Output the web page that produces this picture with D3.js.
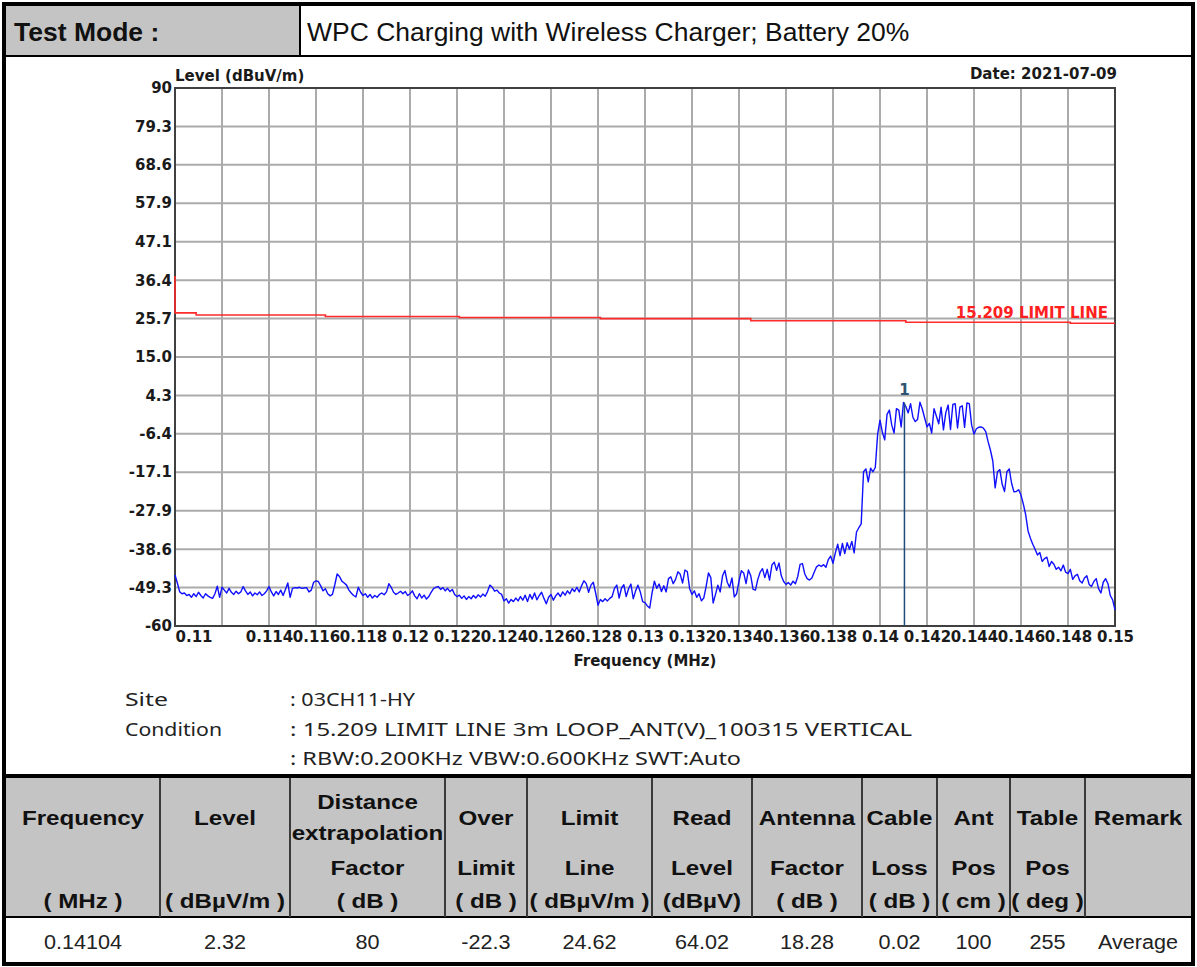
<!DOCTYPE html>
<html lang="en">
<head>
<meta charset="UTF-8">
<title>WPC Charging with Wireless Charger</title>
<script src="https://d3js.org/d3.v7.min.js"></script>
<style>
  body { margin: 0; background: #fff; }
  svg { display: block; }
  .sheet { font-family: "Liberation Sans", Arial, sans-serif; fill: #111; }
  .chart-text { font-family: "DejaVu Sans", sans-serif; font-weight: bold; font-size: 15px; fill: #1a1a1a; }
  .info { font-family: "Noto Sans", sans-serif; font-size: 18px; fill: #222; }
</style>
</head>
<body>
<svg width="1197" height="967"></svg>
<script>
// ---- data ----
const testMode = "WPC Charging with Wireless Charger; Battery 20%";
const chartDate = "Date: 2021-07-09";

// sweep 0.11 .. 0.15 MHz, 0.0001 MHz per point
const freqStart = 0.11;
const freqStep = 0.0001;
const levels = [
  -45.8,-48,-50.5,-51,-50.8,-51.5,-51.2,-52,-51,-51.8,
  -50.6,-51.5,-52.2,-51,-51.6,-52,-52.3,-51,-48.9,-52,
  -49.2,-50,-50.8,-49.5,-50.6,-51.2,-50.3,-51,-50.5,-49,
  -50.2,-51.2,-50.5,-51.6,-50.8,-51.3,-50.5,-51.5,-51,-50.2,
  -49,-50.5,-51.6,-50.4,-51.2,-50,-51.5,-49.8,-48,-52,
  -49.5,-49.3,-49.4,-49.2,-49.5,-49.4,-49.3,-50.5,-50,-47.8,
  -47.4,-47.6,-48.8,-50.2,-49.6,-51,-51.6,-51.2,-48.5,-45.5,
  -46.2,-47.5,-48,-48.6,-50,-50.8,-51.5,-51.9,-49.2,-50.6,
  -51.5,-51,-52,-51.2,-52.2,-51.5,-52,-51.2,-50.8,-51.3,
  -50.5,-48.2,-49.2,-50.6,-51.2,-50.8,-50.3,-51,-50.4,-51.5,
  -51,-50.2,-51.6,-52.4,-51,-52.2,-51.4,-52.5,-51.8,-50.6,
  -49.6,-49.2,-49,-49.8,-49.3,-50.2,-49.5,-50.4,-49.8,-51.2,
  -51.8,-51.4,-52.3,-51.6,-52.6,-51.8,-52.4,-51.5,-52.2,-51.3,
  -51.9,-51.1,-51.7,-50.4,-48.6,-49.2,-50.3,-50,-50.8,-51.2,
  -53,-52.4,-53.6,-52.6,-53.2,-52.2,-53,-51.8,-52.8,-51.4,
  -53.2,-51.2,-52.5,-50.8,-52.7,-51.5,-50.6,-52.3,-53.8,-52,
  -51.2,-52.8,-51.6,-50.8,-51.8,-50.5,-51.4,-50.2,-51,-49.6,
  -50.4,-49.2,-50.5,-48.8,-47.4,-48.2,-50.6,-48.6,-47.8,-50.8,
  -54.2,-52.6,-53.2,-52.4,-53,-52.3,-51.8,-49.5,-48.6,-52.2,
  -49.4,-48.5,-51.8,-49.6,-48.3,-52.4,-50.2,-48.6,-50.5,-53.2,
  -53.5,-54.4,-55,-50.8,-47.5,-49.5,-48.3,-50.4,-48.8,-50.5,
  -46.8,-46.3,-48.2,-47,-44.9,-45.6,-48,-44.4,-44.8,-49.6,
  -51.2,-50.2,-52,-51,-53,-52.2,-49,-45.2,-46.5,-53.6,
  -51.2,-48.6,-50.5,-46,-44.5,-47.8,-49.2,-46.6,-51.9,-51,
  -47.5,-44.6,-45.2,-48.2,-44.4,-46,-49.8,-50,-47,-45,
  -44,-46.5,-44.2,-47.2,-43,-42.2,-44.5,-42.4,-46,-47.6,
  -48.4,-47.9,-48.6,-47.5,-48.2,-46.2,-42.8,-42.6,-45.5,-46.8,
  -47.2,-46.6,-45,-43.5,-43,-43.4,-42.9,-43.6,-41.5,-40.5,
  -42.5,-39.6,-37.2,-40.4,-37,-39.8,-36.8,-38.6,-36.4,-39.6,
  -33.8,-32.6,-31.5,-17,-16.2,-19.8,-16,-17,-15.8,-6.5,
  -2.6,-6,-8.1,-1,0.2,-4,-6.2,0.6,0.2,-4.5,
  2.3,1.2,-0.6,2,-1.8,-3,-2.4,2.4,0.5,-2,
  -4.5,-3.5,-6.2,0.6,-1.5,-3.6,1,-5.3,-0.5,1.6,
  -5.2,1.8,2,-4.8,1,1.4,-4.6,2.2,2,-4,
  -6.5,-5,-4.6,-4.5,-4.8,-5.8,-8.6,-11,-14,-21.5,
  -17,-16.4,-20.5,-22.5,-17,-16.2,-20.2,-22.6,-22.5,-22,
  -23.5,-26,-29,-33.5,-35.5,-37.2,-38.6,-40.2,-39.5,-42,
  -41.2,-40.8,-43.4,-42,-42.8,-44.2,-43.6,-44.6,-43,-45,
  -45.4,-44.2,-47,-46,-45.6,-47.4,-48,-46.6,-46,-48.4,
  -49,-47.6,-46.8,-49.6,-50.8,-47.8,-46.8,-48.2,-51.5,-52.7,
  -55.5
];

// 15.209 limit line (stepped)
const limitFreqs  = [0.11, 0.11, 0.1109, 0.1164, 0.1221, 0.1281, 0.1345, 0.1411, 0.1481, 0.15];
const limitLevels = [37.6, 27.3, 26.7, 26.3, 26.0, 25.7, 25.1, 24.7, 24.4, 24.4];
const limitName = "15.209 LIMIT LINE";

// marker 1
const markerFreq = 0.14104;
const markerLevel = 2.32;

const yTickLabels = ["90","79.3","68.6","57.9","47.1","36.4","25.7","15.0","4.3","-6.4","-17.1","-27.9","-38.6","-49.3","-60"];
const xTickValues = [0.11,0.112,0.114,0.116,0.118,0.12,0.122,0.124,0.126,0.128,0.13,0.132,0.134,0.136,0.138,0.14,0.142,0.144,0.146,0.148,0.15];
const xTickLabels = ["0.11","","0.114","0.116","0.118","0.12","0.122","0.124","0.126","0.128","0.13","0.132","0.134","0.136","0.138","0.14","0.142","0.144","0.146","0.148","0.15"];

const infoLabels = ["Site", "Condition", ""];
const infoValues = [": 03CH11-HY", ": 15.209 LIMIT LINE 3m LOOP_ANT(V)_100315 VERTICAL", ": RBW:0.200KHz VBW:0.600KHz SWT:Auto"];

const headRow1 = ["Frequency","Level","Distance|extrapolation","Over","Limit","Read","Antenna","Cable","Ant","Table","Remark"];
const headRow2 = ["","","Factor","Limit","Line","Level","Factor","Loss","Pos","Pos",""];
const headRow3 = ["( MHz )","( dBµV/m )","( dB )","( dB )","( dBµV/m )","(dBµV)","( dB )","( dB )","( cm )","( deg )",""];
const dataRow  = ["0.14104","2.32","80","-22.3","24.62","64.02","18.28","0.02","100","255","Average"];

// ---- layout ----
const svg = d3.select("svg");
const plot = { left: 175, right: 1115, top: 88, bottom: 626 };
const colEdges = [6, 160, 290, 445, 527, 652, 752, 862, 937, 1010, 1085, 1191];
const gray = "#c4c4c4";

// widen text horizontally like the scanned sheet
function stretch(sel, k) {
  sel.each(function () {
    const w = this.getComputedTextLength();
    if (w > 0) d3.select(this).attr("textLength", w * k).attr("lengthAdjust", "spacingAndGlyphs");
  });
}

const sheet = svg.append("g").attr("class", "sheet");

// header row
sheet.append("rect").attr("x", 6).attr("y", 6).attr("width", 294).attr("height", 50).attr("fill", gray);
sheet.append("line").attr("x1", 300).attr("x2", 300).attr("y1", 6).attr("y2", 56).attr("stroke", "#000").attr("stroke-width", 2);
sheet.append("line").attr("x1", 6).attr("x2", 1191).attr("y1", 56).attr("y2", 56).attr("stroke", "#000").attr("stroke-width", 2);
const head = [
  sheet.append("text").attr("x", 14).attr("y", 41).attr("font-size", 25).attr("font-weight", "bold").text("Test Mode :"),
  sheet.append("text").attr("x", 307).attr("y", 41).attr("font-size", 25).text(testMode)
];
head.forEach(t => stretch(t, 1.06));

// table
const tableTop = 778, tableMid = 917;
sheet.append("rect").attr("x", 6).attr("y", tableTop).attr("width", 1185).attr("height", tableMid - tableTop).attr("fill", gray);
sheet.append("line").attr("x1", 6).attr("x2", 1191).attr("y1", 776).attr("y2", 776).attr("stroke", "#000").attr("stroke-width", 4);
sheet.append("line").attr("x1", 6).attr("x2", 1191).attr("y1", tableMid).attr("y2", tableMid).attr("stroke", "#000").attr("stroke-width", 2);
sheet.selectAll(".colsep").data(colEdges.slice(1, -1)).enter().append("line")
  .attr("x1", d => d).attr("x2", d => d)
  .attr("y1", tableTop).attr("y2", tableMid)
  .attr("stroke", "#3a3a3a").attr("stroke-width", 2);

const colCenter = i => (colEdges[i] + colEdges[i + 1]) / 2;
const headTexts = sheet.append("g").attr("font-size", 21).attr("font-weight", "bold").attr("text-anchor", "middle");
headRow1.forEach((t, i) => {
  const parts = t.split("|");
  const ys = parts.length === 2 ? [801, 832] : [817];
  parts.forEach((p, k) => {
    headTexts.append("text").attr("x", colCenter(i)).attr("y", ys[k]).attr("dy", "0.36em").text(p);
  });
});
headRow2.forEach((t, i) => {
  headTexts.append("text").attr("x", colCenter(i)).attr("y", 867).attr("dy", "0.36em").text(t);
});
headRow3.forEach((t, i) => {
  headTexts.append("text").attr("x", colCenter(i)).attr("y", 900).attr("dy", "0.36em").text(t);
});
stretch(headTexts.selectAll("text"), 1.15);

const dataTexts = sheet.append("g").attr("font-size", 20).attr("text-anchor", "middle").attr("fill", "#222");
dataRow.forEach((t, i) => {
  dataTexts.append("text").attr("x", colCenter(i)).attr("y", 942).attr("dy", "0.36em").text(t);
});
stretch(dataTexts.selectAll("text"), 1.08);

// outer border
svg.append("rect").attr("x", 4).attr("y", 4).attr("width", 1189).attr("height", 960)
  .attr("fill", "none").attr("stroke", "#000").attr("stroke-width", 4);

// ---- chart ----
const x = d3.scaleLinear().domain([0.11, 0.15]).range([plot.left, plot.right]);
const y = d3.scaleLinear().domain([-60, 90]).range([plot.bottom, plot.top]);

const chart = svg.append("g");

// grid
chart.append("g").selectAll("line").data(xTickValues.slice(1, -1)).enter().append("line")
  .attr("x1", d => x(d)).attr("x2", d => x(d)).attr("y1", plot.top).attr("y2", plot.bottom)
  .attr("stroke", "#ababab").attr("stroke-width", 2);
chart.append("g").selectAll("line").data(yTickLabels.slice(1, -1)).enter().append("line")
  .attr("x1", plot.left).attr("x2", plot.right).attr("y1", d => y(+d)).attr("y2", d => y(+d))
  .attr("stroke", "#ababab").attr("stroke-width", 2);

// frame
chart.append("rect").attr("x", plot.left).attr("y", plot.top)
  .attr("width", plot.right - plot.left).attr("height", plot.bottom - plot.top)
  .attr("fill", "none").attr("stroke", "#404040").attr("stroke-width", 2);

// axes
const yAxis = chart.append("g").attr("transform", `translate(${plot.left},0)`)
  .call(d3.axisLeft(y).tickValues(yTickLabels.map(Number)).tickFormat((d, i) => yTickLabels[i]).tickSize(0).tickPadding(3));
const xAxis = chart.append("g").attr("transform", `translate(0,${plot.bottom})`)
  .call(d3.axisBottom(x).tickValues(xTickValues).tickFormat((d, i) => xTickLabels[i]).tickSize(0).tickPadding(5));
[yAxis, xAxis].forEach(a => {
  a.select(".domain").remove();
  a.attr("font-family", null).attr("font-size", null);
  a.selectAll("text").attr("class", "chart-text");
});
xAxis.selectAll("text").filter((d, i) => i === 0).attr("text-anchor", "start");

chart.append("text").attr("class", "chart-text").attr("x", plot.left).attr("y", 81).text("Level (dBuV/m)");
chart.append("text").attr("class", "chart-text").attr("x", plot.right + 2).attr("y", 79).attr("text-anchor", "end").text(chartDate);
chart.append("text").attr("class", "chart-text").attr("x", (plot.left + plot.right) / 2).attr("y", 666).attr("text-anchor", "middle").text("Frequency (MHz)");

// limit line
const limitPts = limitFreqs.map((f, i) => [f, limitLevels[i]]);
chart.append("path").datum(limitPts)
  .attr("fill", "none").attr("stroke", "#ff2a2a").attr("stroke-width", 1.6)
  .attr("d", d3.line().x(d => x(d[0])).y(d => y(d[1])).curve(d3.curveStepAfter));
chart.append("text").attr("class", "chart-text").attr("x", 1108).attr("y", 318)
  .attr("text-anchor", "end").style("fill", "#ff2020").text(limitName);

// trace
const trace = levels.map((v, i) => [freqStart + i * freqStep, v]);
chart.append("path").datum(trace)
  .attr("fill", "none").attr("stroke", "#1010ff").attr("stroke-width", 1.4).attr("stroke-linejoin", "round")
  .attr("d", d3.line().x(d => x(d[0])).y(d => y(d[1])));

// marker
chart.append("line").attr("x1", x(markerFreq)).attr("x2", x(markerFreq))
  .attr("y1", y(markerLevel)).attr("y2", plot.bottom)
  .attr("stroke", "#1f4e79").attr("stroke-width", 1.5);
chart.append("text").attr("class", "chart-text").attr("x", x(markerFreq)).attr("y", 395)
  .attr("text-anchor", "middle").style("fill", "#2e5472").text("1");

// info block (widths fitted to the scanned sheet)
const infoLabelWidths = [43, 97, 0];
const infoValueWidths = [125, 622, 451];
const info = svg.append("g").attr("class", "info");
infoLabels.forEach((t, i) => {
  const el = info.append("text").attr("x", 125).attr("y", 706 + i * 29.5).text(t);
  if (infoLabelWidths[i]) el.attr("textLength", infoLabelWidths[i]).attr("lengthAdjust", "spacingAndGlyphs");
});
infoValues.forEach((t, i) => {
  info.append("text").attr("x", 290).attr("y", 706 + i * 29.5).text(t)
    .attr("textLength", infoValueWidths[i]).attr("lengthAdjust", "spacingAndGlyphs");
});
</script>
</body>
</html>
